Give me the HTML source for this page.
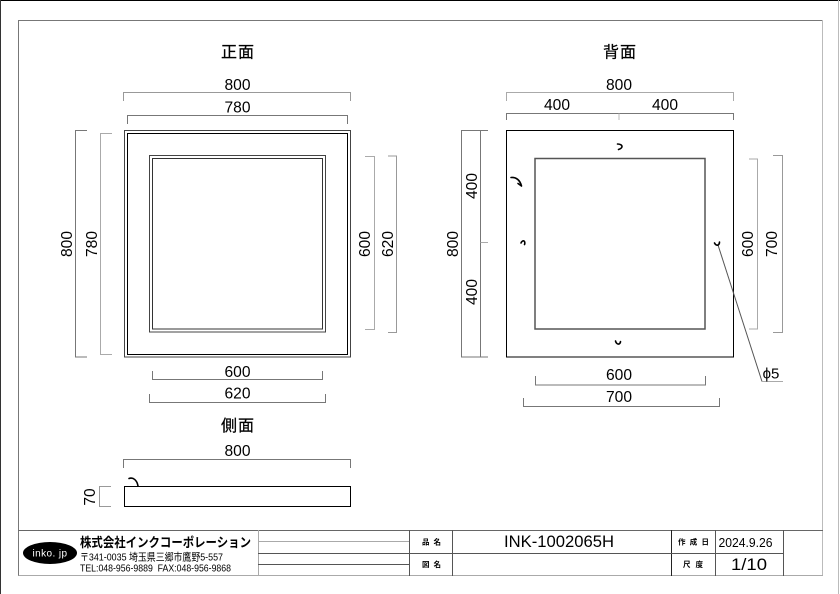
<!DOCTYPE html>
<html lang="ja">
<head>
<meta charset="utf-8">
<style>
html,body{margin:0;padding:0;background:#fff;}
svg{display:block;}
text{font-family:"Liberation Sans","Noto Sans CJK JP",sans-serif;fill:#000;}
.d{font-size:15.6px;text-anchor:middle;}
.t{font-size:16px;text-anchor:middle;letter-spacing:1px;stroke:#000;stroke-width:.25px;}
.s{font-size:7.5px;font-weight:bold;}
</style>
</head>
<body>
<svg width="840" height="594" viewBox="0 0 840 594" xmlns="http://www.w3.org/2000/svg">
<rect width="840" height="594" fill="#fff"/>
<!-- page edge -->
<path d="M0 0.5H840" stroke="#000" fill="none"/>
<path d="M0.5 0V594" stroke="#333" fill="none"/>
<path d="M838.5 0V594" stroke="#bbb" fill="none"/>
<!-- frame -->
<path d="M18.500 576V20.500H822" stroke="#777" fill="none"/>
<path d="M822.500 20V576" stroke="#bbb" fill="none"/>
<path d="M18.500 575.500H823" stroke="#aaa" fill="none"/>
<path d="M18.500 530.500H823" stroke="#666" fill="none"/>

<!-- title block -->
<g fill="none" stroke="#555">
<path d="M258.500 530V576" stroke="#aaa"/>
<path d="M409.500 530V576"/>
<path d="M452.500 530V576"/>
<path d="M671.500 530V576" stroke="#222"/>
<path d="M715.500 530V576"/>
<path d="M783.500 530V576"/>
<path d="M258 541.500H409" stroke="#aaa"/>
<path d="M258 553.500H783"/>
<path d="M258 564.500H409"/>
</g>
<ellipse cx="50" cy="553" rx="27" ry="11" fill="#000"/>
<text x="50" y="556.500" font-size="10" text-anchor="middle" style="fill:#fff" letter-spacing="0.4">inko. jp</text>
<text x="80" y="547" font-size="13" font-weight="bold" textLength="171" lengthAdjust="spacingAndGlyphs">株式会社インクコーポレーション</text>
<text x="80" y="560.500" font-size="10.500" textLength="143" lengthAdjust="spacingAndGlyphs">〒341-0035 埼玉県三郷市鷹野5-557</text>
<text x="80" y="571.500" font-size="10.500" textLength="151" lengthAdjust="spacingAndGlyphs" xml:space="preserve">TEL:048-956-9889  FAX:048-956-9868</text>
<text x="422" y="544.500" class="s" textLength="19">品 名</text>
<text x="422" y="567" class="s" textLength="19">図 名</text>
<text x="504" y="547" font-size="16.500" textLength="110" lengthAdjust="spacingAndGlyphs">INK-1002065H</text>
<text x="678" y="544.500" class="s" textLength="31">作 成 日</text>
<text x="683" y="567" class="s" textLength="20">尺 度</text>
<text x="718.500" y="547" font-size="13" textLength="54" lengthAdjust="spacingAndGlyphs">2024.9.26</text>
<text x="731" y="570" font-size="17" textLength="36" lengthAdjust="spacingAndGlyphs">1/10</text>

<!-- front view -->
<g fill="none">
<rect x="124.500" y="130.500" width="226" height="226.500" stroke="#444"/>
<rect x="127.500" y="133.500" width="220" height="221" stroke="#000"/>
<rect x="149.500" y="155.500" width="176" height="176.500" stroke="#444"/>
<rect x="152.500" y="158.500" width="170" height="170.500" stroke="#333"/>
</g>
<!-- back view -->
<g fill="none">
<rect x="506.500" y="130.500" width="227" height="226.500" stroke="#000"/>
<rect x="535" y="158.500" width="170" height="170.500" stroke="#555" stroke-width="1.500"/>
</g>
<!-- side view -->
<rect x="124.500" y="486.500" width="226" height="20" fill="none" stroke="#000"/>

<!-- dimension lines -->
<g fill="none" stroke="#777">
<path d="M123.500 101V92.500H350.500V101" stroke="#999"/>
<path d="M127.500 124V115.500H347.500V124"/>
<path d="M87 130.500H75.500V357H87"/>
<path d="M112 133.500H100.500V354.500H112" stroke="#aaa"/>
<path d="M365 156.500H374.500V329.500H365" stroke="#aaa"/>
<path d="M388 156H396.500V332.500H388" stroke="#999"/>
<path d="M152.500 371V379.500H322.500V371"/>
<path d="M149.500 394V402.500H325.500V394"/>

<path d="M506.500 101V92.500H733.500V101" stroke="#aaa"/>
<path d="M506.500 120V113.500H733.500V120"/>
<path d="M619 113.500V120" stroke="#bbb"/>
<path d="M488 130.500H461.500V357H488"/>
<path d="M480.500 130.500V357"/>
<path d="M480.500 242.500H488" stroke="#aaa"/>
<path d="M749 159H757.500V329H749" stroke="#aaa"/>
<path d="M773 155.500H782.500V332.500H773" stroke="#999"/>
<path d="M535.500 376V385H705.500V376"/>
<path d="M523.500 398V406.500H719.500V398"/>

<path d="M718 245L762 381.500" stroke="#555"/>
<path d="M762 381.500H783" stroke="#aaa"/>

<path d="M123.500 468V459.500H350.500V468"/>
<path d="M111 486.500H99.500V506.500H111" stroke="#999"/>
</g>

<!-- hooks -->
<g fill="none" stroke="#000" stroke-width="1.600" stroke-linecap="round">
<path d="M617.500 144C620 144 622 145 622 146.500C622 148 620 149 618.500 149.500"/>
<path d="M511 177.500C516 177 520 180 521.500 186M521.500 186L518 183.500"/>
<path d="M521 243C521.500 241.500 523 240.500 524 241C525 241.500 525 243.500 524.500 244.500"/>
<path d="M714.500 243C715.500 245 717 245.500 718 245C719 244.500 719.500 243 719.500 242"/>
<path d="M615.500 341C616 343 617.500 344.500 619 344C620 343.500 620.500 342.500 620.500 341.500"/>
<path d="M129 478.500C133 477 137 480 138 486"/>
</g>

<!-- titles -->
<text x="238" y="57.500" class="t">正面</text>
<text x="620" y="57.500" class="t">背面</text>
<text x="238" y="431" class="t">側面</text>

<!-- dimension text -->
<text x="237.500" y="90" class="d">800</text>
<text x="237.500" y="112.500" class="d">780</text>
<text x="237.500" y="377" class="d">600</text>
<text x="237.500" y="398.500" class="d">620</text>
<text x="237.500" y="456" class="d">800</text>
<text x="619" y="90" class="d">800</text>
<text x="557" y="110" class="d">400</text>
<text x="665" y="110" class="d">400</text>
<text x="619" y="380" class="d">600</text>
<text x="619" y="402" class="d">700</text>
<text x="771" y="378.500" font-size="15" text-anchor="middle" font-family="DejaVu Sans">ϕ5</text>

<text transform="translate(72,244) rotate(-90)" class="d">800</text>
<text transform="translate(97,244) rotate(-90)" class="d">780</text>
<text transform="translate(370,244) rotate(-90)" class="d">600</text>
<text transform="translate(393,244) rotate(-90)" class="d">620</text>
<text transform="translate(458,244) rotate(-90)" class="d">800</text>
<text transform="translate(477,186) rotate(-90)" class="d">400</text>
<text transform="translate(477,292) rotate(-90)" class="d">400</text>
<text transform="translate(753,244) rotate(-90)" class="d">600</text>
<text transform="translate(777,244) rotate(-90)" class="d">700</text>
<text transform="translate(95,497) rotate(-90)" class="d">70</text>
</svg>
</body>
</html>
